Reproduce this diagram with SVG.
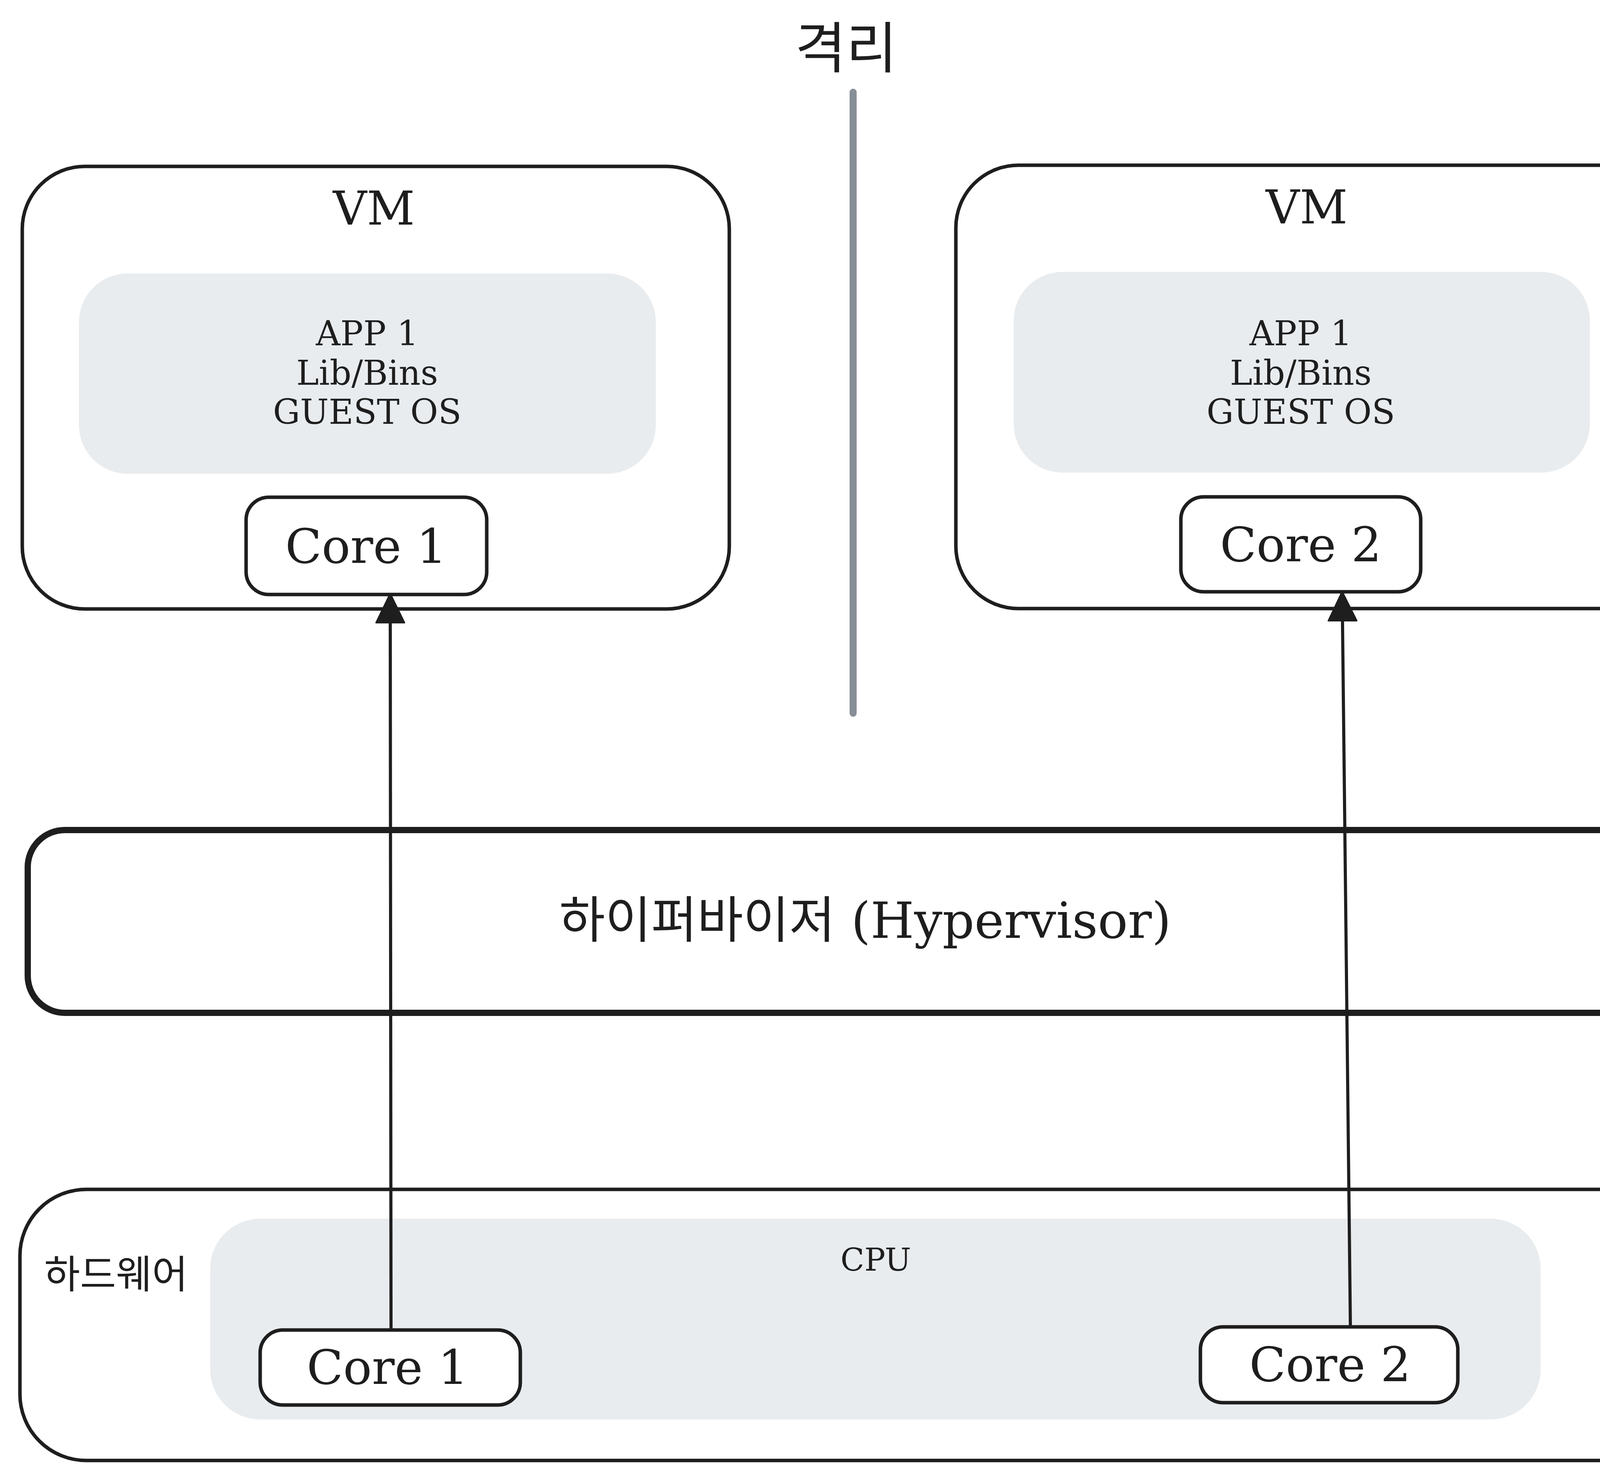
<svg xmlns="http://www.w3.org/2000/svg" width="6109" height="3789" viewBox="0 0 6109 3789">
<defs>
<style>
.box{fill:#ffffff;stroke:#1e1e1e;stroke-width:9}
.gray{fill:#e9ecef;stroke:none}
.hv{fill:#ffffff;stroke:#1e1e1e;stroke-width:16}
.serif{font-family:"DejaVu Serif","Noto Sans CJK KR",serif;fill:#1e1e1e;text-anchor:middle}
.sans{font-family:"Liberation Sans","Noto Sans CJK KR",sans-serif;fill:#1e1e1e;text-anchor:middle}
.kr{font-family:"Noto Sans CJK KR",sans-serif;fill:#1e1e1e;text-anchor:middle}
.conn{stroke:#1e1e1e;stroke-width:8;fill:none;marker-end:url(#ah)}
</style>
<marker id="ah" markerUnits="userSpaceOnUse" viewBox="-2 -42 80 84" markerWidth="80" markerHeight="84" refX="70" refY="0" orient="auto">
<path d="M0,-35 L72,0 L0,35 Z" fill="#1e1e1e" stroke="#1e1e1e" stroke-width="6" stroke-linejoin="round"/>
</marker>
</defs>
<rect width="6109" height="3789" fill="#ffffff"/>

<g id="isolation">
<text class="kr" x="2166" y="174" font-size="142">격리</text>
<line x1="2184" y1="236" x2="2184" y2="1826" stroke="#868e96" stroke-width="18" stroke-linecap="round"/>
</g>

<g id="vm1">
<rect class="box" x="57" y="426" width="1810" height="1133" rx="160"/>
<text class="serif" x="957" y="575" font-size="120">VM</text>
<rect class="gray" x="202" y="700" width="1477" height="513" rx="125"/>
<text class="serif" x="940" y="884" font-size="87">APP 1</text>
<text class="serif" x="940" y="985" font-size="87">Lib/Bins</text>
<text class="serif" x="940" y="1085" font-size="87">GUEST OS</text>
</g>
<g id="vm1-core1">
<rect class="box" x="630" y="1273" width="616" height="249" rx="58"/>
<text class="serif" x="937" y="1441" font-size="122">Core 1</text>
</g>

<g id="vm2">
<rect class="box" x="2447" y="423" width="1818" height="1135" rx="160"/>
<text class="serif" x="3345" y="572" font-size="120">VM</text>
<rect class="gray" x="2595" y="696" width="1475" height="514" rx="125"/>
<text class="serif" x="3330" y="884" font-size="87">APP 1</text>
<text class="serif" x="3330" y="985" font-size="87">Lib/Bins</text>
<text class="serif" x="3330" y="1085" font-size="87">GUEST OS</text>
</g>
<g id="vm2-core2">
<rect class="box" x="3023" y="1272" width="614" height="243" rx="58"/>
<text class="serif" x="3330" y="1437" font-size="122">Core 2</text>
</g>

<g id="hypervisor">
<rect class="hv" x="71" y="2125" width="4291" height="468" rx="95"/>
<text class="serif" x="2215" y="2401" font-size="128">하이퍼바이저 (Hypervisor)</text>
</g>

<g id="hardware">
<rect class="box" x="51" y="3045" width="4322" height="694" rx="170"/>
<text class="kr" x="297" y="3298" font-size="100">하드웨어</text>
</g>
<g id="cpu">
<rect class="gray" x="538" y="3120" width="3406" height="514" rx="128"/>
<text class="serif" x="2242" y="3253" font-size="80">CPU</text>
</g>
<g id="cpu-core1">
<rect class="box" x="666" y="3405" width="666" height="192" rx="58"/>
<text class="serif" x="992" y="3543" font-size="122">Core 1</text>
</g>
<g id="cpu-core2">
<rect class="box" x="3073" y="3397" width="659" height="194" rx="58"/>
<text class="serif" x="3405" y="3536" font-size="122">Core 2</text>
</g>

<g id="stack">
<rect class="box" x="4752" y="635" width="1307" height="2685" rx="170"/>
</g>
<g id="stack-os-top">
<rect class="box" x="4862" y="855" width="1100" height="307" rx="80"/>
<text class="sans" x="5413" y="1043" font-size="92">OS</text>
</g>
<g id="stack-hypervisor">
<rect class="box" x="4872" y="1473" width="1099" height="313" rx="80"/>
<text class="kr" x="5418" y="1666" font-size="100">하이퍼바이저</text>
</g>
<g id="stack-os">
<rect class="box" x="4854" y="2097" width="1099" height="308" rx="80"/>
<text class="sans" x="5406" y="2284" font-size="92">OS</text>
</g>
<g id="stack-hardware">
<rect class="box" x="4876" y="2799" width="1098" height="311" rx="80"/>
<text class="kr" x="5420" y="2991" font-size="100">하드웨어</text>
</g>

<g id="connectors">
<line class="conn" x1="1001" y1="3405" x2="999" y2="1524"/>
<line class="conn" x1="3457" y1="3397" x2="3436" y2="1519"/>
<line class="conn" x1="5436" y1="1451" x2="5439" y2="1157"/>
<line class="conn" x1="5439" y1="2053" x2="5439" y2="1790"/>
<line class="conn" x1="5413" y1="2771" x2="5408" y2="2409"/>
</g>
</svg>
